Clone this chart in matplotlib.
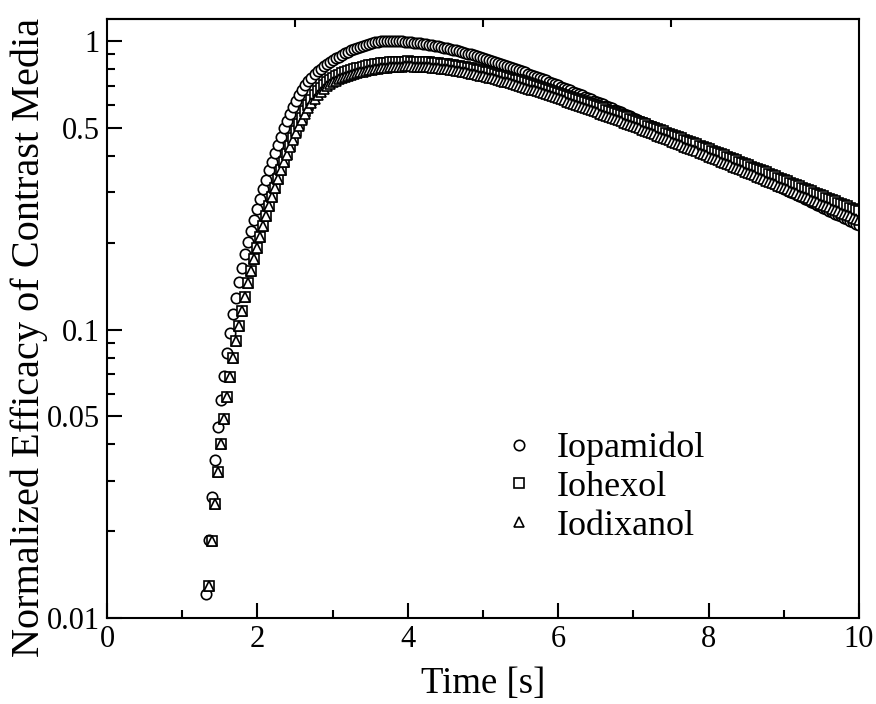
import numpy as np
import matplotlib
matplotlib.use('Agg')
import matplotlib.pyplot as plt
from matplotlib.ticker import FixedLocator, NullFormatter

plt.rcParams['font.family'] = ['Liberation Serif', 'DejaVu Serif']

# sampling grid of the simulation output [s]
time = np.round(np.arange(1.32, 10.0001, 0.04), 2)

# normalized efficacy, Iopamidol starts at t = 1.32 s, the other two at 1.36 s
iopamidol = [
    0.0121, 0.0187, 0.0264, 0.0354, 0.0458, 0.0570, 0.0693, 0.0828, 0.0973, 0.113,
    0.129, 0.146, 0.164, 0.182, 0.201, 0.220, 0.240, 0.261, 0.283, 0.306,
    0.330, 0.356, 0.382, 0.409, 0.437, 0.466, 0.497, 0.527, 0.559, 0.590,
    0.621, 0.650, 0.678, 0.703, 0.726, 0.746, 0.766, 0.783, 0.800, 0.815,
    0.829, 0.843, 0.856, 0.869, 0.881, 0.893, 0.905, 0.917, 0.928, 0.938,
    0.947, 0.955, 0.963, 0.970, 0.976, 0.982, 0.987, 0.991, 0.995, 0.998,
    1.000,
    1.000, 0.999, 0.998, 0.997, 0.996, 0.993, 0.991, 0.988, 0.986, 0.984,
    0.980, 0.976, 0.973, 0.969, 0.965, 0.961, 0.956, 0.951, 0.947, 0.942,
    0.937, 0.931, 0.926, 0.920, 0.915, 0.909, 0.903, 0.897, 0.891, 0.885,
    0.878, 0.872, 0.865, 0.859, 0.852, 0.845, 0.839, 0.832, 0.825, 0.819,
    0.812, 0.805, 0.798, 0.791, 0.784, 0.777, 0.770, 0.763, 0.756, 0.750,
    0.743, 0.736, 0.729, 0.722, 0.715, 0.708, 0.701, 0.694, 0.688, 0.681,
    0.674, 0.667, 0.661, 0.654, 0.647, 0.641, 0.634, 0.628, 0.621, 0.615,
    0.608, 0.602, 0.596, 0.590, 0.583, 0.577, 0.571, 0.565, 0.559, 0.553,
    0.547, 0.541, 0.535, 0.529, 0.524, 0.518, 0.512, 0.507, 0.501, 0.496,
    0.490, 0.485, 0.480, 0.474, 0.469, 0.464, 0.458, 0.453, 0.448, 0.443,
    0.438, 0.433, 0.429, 0.424, 0.419, 0.414, 0.410, 0.405, 0.400, 0.396,
    0.391, 0.387, 0.383, 0.378, 0.374, 0.370, 0.365, 0.361, 0.357, 0.353,
    0.349, 0.345, 0.341, 0.337, 0.333, 0.330, 0.326, 0.322, 0.318, 0.315,
    0.311, 0.307, 0.304, 0.300, 0.297, 0.294, 0.290, 0.287, 0.284, 0.280,
    0.277, 0.274, 0.271, 0.267, 0.264, 0.261, 0.258, 0.255, 0.252, 0.249,
    0.247, 0.244, 0.241, 0.238, 0.235, 0.232, 0.230,
]

iohexol = [
    0.0129, 0.0186, 0.0249, 0.0320, 0.0401, 0.0490, 0.0583, 0.0687, 0.0796, 0.0910,
    0.103, 0.116, 0.130, 0.145, 0.160, 0.176, 0.192, 0.209, 0.228, 0.247,
    0.267, 0.288, 0.310, 0.333, 0.357, 0.381, 0.406, 0.433, 0.459, 0.486,
    0.514, 0.542, 0.570, 0.598, 0.624, 0.647, 0.668, 0.687, 0.703, 0.718,
    0.731, 0.743, 0.753, 0.762, 0.771, 0.779, 0.786, 0.792, 0.798, 0.803,
    0.808, 0.813, 0.817, 0.822, 0.825, 0.829, 0.832, 0.835, 0.838, 0.840,
    0.842, 0.844, 0.845, 0.846, 0.847, 0.847, 0.848,
    0.847, 0.847, 0.846, 0.846, 0.845, 0.843, 0.842, 0.840, 0.838, 0.836,
    0.834, 0.831, 0.828, 0.826, 0.823, 0.819, 0.816, 0.813, 0.809, 0.806,
    0.802, 0.798, 0.794, 0.790, 0.786, 0.781, 0.777, 0.772, 0.768, 0.763,
    0.758, 0.753, 0.749, 0.744, 0.739, 0.734, 0.729, 0.724, 0.719, 0.714,
    0.709, 0.703, 0.698, 0.693, 0.688, 0.683, 0.677, 0.672, 0.667, 0.662,
    0.656, 0.651, 0.646, 0.641, 0.635, 0.630, 0.625, 0.619, 0.614, 0.609,
    0.604, 0.599, 0.594, 0.588, 0.583, 0.578, 0.573, 0.568, 0.563, 0.558,
    0.553, 0.548, 0.543, 0.538, 0.533, 0.528, 0.523, 0.519, 0.514, 0.509,
    0.504, 0.500, 0.495, 0.490, 0.486, 0.481, 0.477, 0.472, 0.468, 0.463,
    0.459, 0.455, 0.450, 0.446, 0.442, 0.438, 0.433, 0.429, 0.425, 0.421,
    0.417, 0.413, 0.409, 0.405, 0.401, 0.397, 0.393, 0.389, 0.386, 0.382,
    0.378, 0.375, 0.371, 0.367, 0.364, 0.360, 0.357, 0.353, 0.350, 0.346,
    0.343, 0.339, 0.336, 0.333, 0.329, 0.326, 0.323, 0.320, 0.317, 0.313,
    0.310, 0.307, 0.304, 0.301, 0.298, 0.295, 0.292, 0.289, 0.286, 0.284,
    0.281, 0.278, 0.275, 0.272, 0.270, 0.267, 0.264, 0.262, 0.259, 0.257,
]

iodixanol = [
    0.0129, 0.0186, 0.0249, 0.0320, 0.0401, 0.0490, 0.0583, 0.0687, 0.0796, 0.0910,
    0.103, 0.116, 0.130, 0.145, 0.160, 0.176, 0.192, 0.209, 0.228, 0.247,
    0.267, 0.288, 0.310, 0.333, 0.357, 0.380, 0.403, 0.429, 0.454, 0.479,
    0.506, 0.532, 0.559, 0.585, 0.609, 0.631, 0.650, 0.667, 0.682, 0.696,
    0.707, 0.718, 0.727, 0.735, 0.743, 0.750, 0.756, 0.762, 0.767, 0.772,
    0.777, 0.782, 0.786, 0.790, 0.793, 0.797, 0.800, 0.803, 0.806, 0.808,
    0.810, 0.812, 0.813, 0.814, 0.814, 0.815, 0.815,
    0.815, 0.814, 0.814, 0.813, 0.812, 0.811, 0.809, 0.807, 0.805, 0.804,
    0.801, 0.798, 0.796, 0.793, 0.791, 0.787, 0.784, 0.780, 0.777, 0.774,
    0.770, 0.766, 0.762, 0.758, 0.754, 0.749, 0.745, 0.741, 0.736, 0.732,
    0.727, 0.722, 0.718, 0.713, 0.708, 0.703, 0.698, 0.693, 0.688, 0.683,
    0.678, 0.673, 0.668, 0.663, 0.658, 0.653, 0.647, 0.642, 0.637, 0.632,
    0.627, 0.622, 0.616, 0.611, 0.606, 0.601, 0.596, 0.591, 0.586, 0.581,
    0.575, 0.570, 0.565, 0.560, 0.555, 0.550, 0.545, 0.540, 0.535, 0.531,
    0.526, 0.521, 0.516, 0.511, 0.506, 0.502, 0.497, 0.492, 0.488, 0.483,
    0.478, 0.474, 0.469, 0.465, 0.460, 0.456, 0.452, 0.447, 0.443, 0.438,
    0.434, 0.430, 0.426, 0.422, 0.418, 0.414, 0.410, 0.405, 0.401, 0.397,
    0.394, 0.390, 0.386, 0.382, 0.378, 0.374, 0.371, 0.367, 0.363, 0.360,
    0.356, 0.352, 0.349, 0.345, 0.342, 0.338, 0.335, 0.332, 0.328, 0.325,
    0.322, 0.318, 0.315, 0.312, 0.309, 0.306, 0.303, 0.300, 0.296, 0.293,
    0.290, 0.288, 0.285, 0.282, 0.279, 0.276, 0.273, 0.271, 0.268, 0.265,
    0.262, 0.260, 0.257, 0.254, 0.252, 0.249, 0.247, 0.244, 0.242, 0.239,
]

y_major = [0.01, 0.05, 0.1, 0.5, 1]
y_major_labels = ['0.01', '0.05', '0.1', '0.5', '1']
y_minor = [0.02, 0.03, 0.04, 0.06, 0.07, 0.08, 0.09,
           0.2, 0.3, 0.4, 0.6, 0.7, 0.8, 0.9]

fig = plt.figure(figsize=(8.76, 7.04), dpi=100)
ax = fig.add_axes([0.1221, 0.1217, 0.8584, 0.8513])

mk = dict(linestyle='none', markerfacecolor='white',
          markeredgecolor='black', markeredgewidth=1.2)
ax.plot(time, iopamidol, marker='o', markersize=7.5, label='Iopamidol', **mk)
ax.plot(time[1:], iohexol, marker='s', markersize=6.8, label='Iohexol', **mk)
ax.plot(time[1:], iodixanol, marker='^', markersize=7.5, label='Iodixanol', **mk)

ax.set_yscale('log')
ax.set_xlim(0, 10)
ax.set_ylim(0.01, 1.19)

ax.set_xticks([0, 2, 4, 6, 8, 10])
ax.set_xticks([1, 3, 5, 7, 9], minor=True)
ax.set_yticks(y_major)
ax.set_yticklabels(y_major_labels)
ax.yaxis.set_minor_locator(FixedLocator(y_minor))
ax.yaxis.set_minor_formatter(NullFormatter())

ax.tick_params(which='both', direction='in', top=False, right=False,
               width=1.5, labelsize=22, pad=5)
ax.tick_params(which='major', length=11)
ax.tick_params(which='minor', length=6)

# short unlabelled ticks along the top edge
top = ax.secondary_xaxis('top')
top.set_xticks([2.5, 5, 7.5])
top.tick_params(direction='in', length=6, width=1.5, labeltop=False)
top.spines['top'].set_linewidth(1.5)

for s in ax.spines.values():
    s.set_linewidth(1.5)

ax.set_xlabel('Time [s]', fontsize=26.5, labelpad=9)
ax.set_ylabel('Normalized Efficacy of Contrast Media', fontsize=29)
ax.yaxis.set_label_coords(-0.079, 0.468)

ax.legend(loc='upper left', bbox_to_anchor=(0.524, 0.311), frameon=False,
          fontsize=26, handlelength=1.0, handletextpad=0.55, labelspacing=0.15,
          borderpad=0, borderaxespad=0)

fig.savefig('out.png', dpi=100)
